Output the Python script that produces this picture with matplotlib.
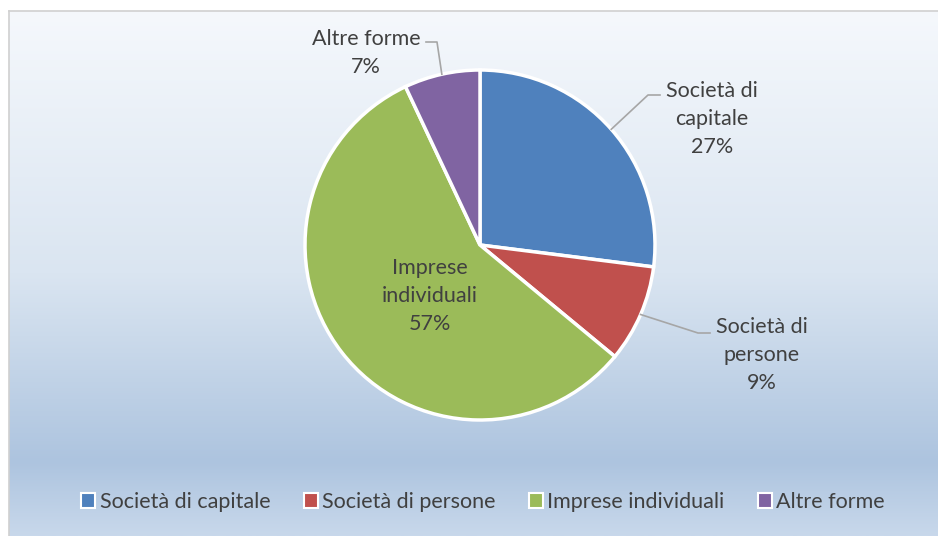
import numpy as np
import matplotlib
matplotlib.use("Agg")
import matplotlib.pyplot as plt
from matplotlib.colors import LinearSegmentedColormap
from matplotlib.patches import Patch

plt.rcParams['font.family'] = ['Lato', 'DejaVu Sans']

# Ripartizione per forma giuridica (%)
categorie = ["Società di capitale", "Società di persone", "Imprese individuali", "Altre forme"]
etichette = ["Società di\ncapitale", "Società di\npersone", "Imprese\nindividuali", "Altre forme"]
quote = [27, 9, 57, 7]
colori = ["#4f81bd", "#c0504d", "#9bbb59", "#8064a2"]
testo_col = "#404040"

W, H = 938, 536
fig = plt.figure(figsize=(W / 100, H / 100), dpi=100)
fig.patch.set_facecolor("white")

# sfondo sfumato dell'area grafico
bg = fig.add_axes([9 / W, 0, 1 - 9 / W, (H - 11) / H], zorder=-1)
cmap = LinearSegmentedColormap.from_list(
    "sfondo", [(0, "#f5f8fc"), (0.5, "#dae5f1"), (0.86, "#adc4df"), (1.0, "#c8d8eb")])
grad = np.linspace(0, 1, 256).reshape(-1, 1)
bg.imshow(grad, cmap=cmap, aspect="auto", extent=[0, 1, 1, 0])
bg.set_xticks([])
bg.set_yticks([])
for s in ["right", "bottom"]:
    bg.spines[s].set_visible(False)
for s in ["left", "top"]:
    bg.spines[s].set_color("#d0d0d0")
    bg.spines[s].set_linewidth(1.2)

# torta
cx, cy, r = 480, 245, 175
ax = fig.add_axes([(cx - r) / W, (H - cy - r) / H, 2 * r / W, 2 * r / H])
wedges, _ = ax.pie(quote, colors=colori, startangle=90, counterclock=False, radius=1,
                   wedgeprops=dict(edgecolor="white", linewidth=2.5))
ax.set_xlim(-1, 1)
ax.set_ylim(-1, 1)
ax.axis("off")


def px(x, y):
    return (x - cx) / r, (cy - y) / r


# etichette con linee guida
pos_testo = [(712, 119), (762, 355), (430, 296), (366, 53)]
gomiti = [[(660, 95), (648, 95)], [(710, 333), (698, 333)], None, [(426, 42), (437, 42)]]
for w, lab, q, (tx, ty), gom in zip(wedges, etichette, quote, pos_testo, gomiti):
    x, y = px(tx, ty)
    ax.text(x, y, f"{lab}\n{q}%", ha="center", va="center", fontsize=15.5,
            color=testo_col, linespacing=1.5, clip_on=False)
    if gom is None:
        continue
    ang = np.deg2rad((w.theta1 + w.theta2) / 2)
    pts = [px(*p) for p in gom] + [(np.cos(ang), np.sin(ang))]
    xs, ys = zip(*pts)
    ax.plot(xs, ys, color="#a6a6a6", linewidth=1.2, clip_on=False)

handles = [Patch(facecolor=c, edgecolor="white", linewidth=1.5) for c in colori]
fig.legend(handles, categorie, loc="center", bbox_to_anchor=(0.515, 0.063), ncol=4,
           frameon=False, fontsize=15.5, labelcolor=testo_col, handlelength=0.65,
           handleheight=0.65, handletextpad=0.2, columnspacing=1.55)

fig.savefig("out.png", dpi=100)
